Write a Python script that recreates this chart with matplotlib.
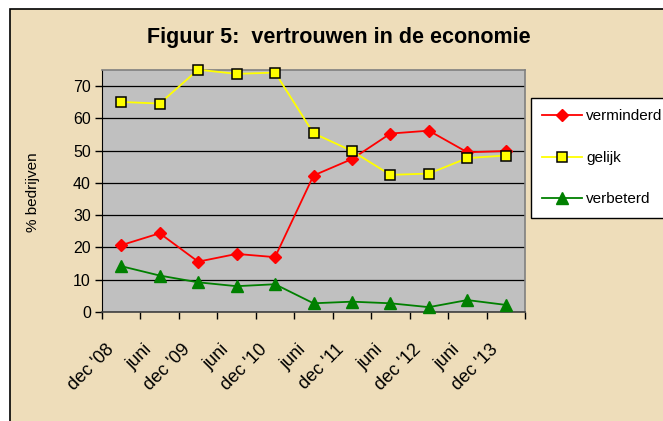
import numpy as np
import matplotlib
matplotlib.use("Agg")
import matplotlib.pyplot as plt
from matplotlib.patches import Rectangle
from matplotlib.transforms import ScaledTranslation

plt.rcParams["font.family"] = ["Liberation Sans", "DejaVu Sans"]

periodes = ["dec '08", "juni", "dec '09", "juni", "dec '10", "juni",
            "dec '11", "juni", "dec '12", "juni", "dec '13"]
verminderd = [20.7, 24.4, 15.6, 18.0, 17.0, 42.3, 47.4, 55.3, 56.2, 49.5, 49.9]
gelijk = [65.1, 64.6, 75.1, 73.8, 74.2, 55.4, 49.9, 42.5, 42.9, 47.7, 48.5]
verbeterd = [14.2, 11.3, 9.2, 8.0, 8.6, 2.7, 3.2, 2.7, 1.5, 3.7, 2.2]
y_ticks = [0, 10, 20, 30, 40, 50, 60, 70]

W, H = 663, 421
fig = plt.figure(figsize=(W / 100, H / 100), dpi=100, facecolor="white")

# parchment background with border at top/left
fig.patches.append(Rectangle((10 / W, -0.1), 1.2, 1.1 - 9 / H, transform=fig.transFigure,
                             facecolor="#EEDDBA", edgecolor="black", linewidth=1.2, zorder=-10))

ax = fig.add_axes([102 / W, 1 - 312 / H, (525 - 102) / W, (312 - 70) / H])
ax.set_zorder(2)
ax.set_facecolor("#C0C0C0")

x = np.arange(len(periodes))
ax.plot(x, verminderd, color="#FF0000", lw=1.3, marker="D", ms=6, mfc="#FF0000",
        mec="#FF0000", label="verminderd", clip_on=False, zorder=3)
ax.plot(x, gelijk, color="#FFFF00", lw=1.3, marker="s", ms=6.5, mfc="#FFFF00",
        mec="black", mew=1.1, label="gelijk", clip_on=False, zorder=3)
ax.plot(x, verbeterd, color="#008000", lw=1.3, marker="^", ms=8, mfc="#008000",
        mec="#008000", label="verbeterd", clip_on=False, zorder=3)

ax.set_xlim(-0.5, len(periodes) - 0.5)
ax.set_ylim(0, 75)
ax.set_yticks(y_ticks)
ax.grid(axis="y", color="black", lw=0.9)
ax.set_axisbelow(True)

for s in ["top", "right"]:
    ax.spines[s].set_color("#808080")
    ax.spines[s].set_linewidth(1.2)
ax.spines["left"].set_color("black")
ax.spines["bottom"].set_color("#404040")
ax.spines["bottom"].set_linewidth(1.2)

ax.tick_params(axis="y", length=5, width=1, pad=3, labelsize=11.5, direction="out")
ax.set_xticks(x)
ax.set_xticklabels(periodes, rotation=45, ha="right", va="center", rotation_mode="anchor")
ax.set_xticks(np.arange(-0.5, len(periodes), 1), minor=True)
ax.tick_params(axis="x", which="major", length=0, pad=25, labelsize=13)
ax.tick_params(axis="x", which="minor", length=5, width=1, direction="out")
for lbl in ax.get_xticklabels():
    lbl.set_transform(lbl.get_transform() + ScaledTranslation(-10 / 100, 0, fig.dpi_scale_trans))

fig.text(339 / W, 1 - 38 / H, "Figuur 5:  vertrouwen in de economie", ha="center",
         va="center", fontsize=15.5, fontweight="bold")
fig.text(33 / W, 1 - 192 / H, "% bedrijven", rotation=90, ha="center", va="center",
         fontsize=11)

leg = fig.legend(loc="upper left", bbox_to_anchor=(531 / W, 1 - 98 / H), fontsize=11,
                 frameon=True, fancybox=False, edgecolor="black", framealpha=1,
                 handlelength=2.6, labelspacing=1.8, borderpad=0.75, handletextpad=0.25,
                 borderaxespad=0)
leg.get_frame().set_linewidth(1.0)
leg.set_zorder(3)

fig.savefig("out.png", dpi=100, facecolor=fig.get_facecolor())
